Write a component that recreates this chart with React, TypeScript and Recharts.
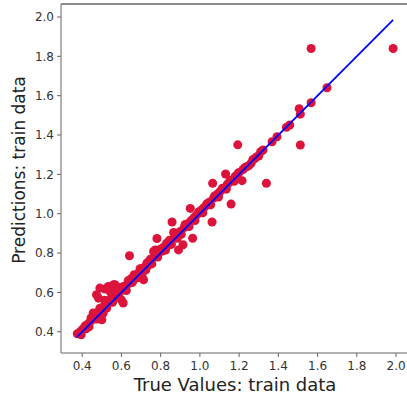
import { ScatterChart, Scatter, XAxis, YAxis, ZAxis, Label, ReferenceLine } from "recharts"

// true vs predicted values (train set)
const trueValues = [
  0.375, 0.385, 0.39, 0.4, 0.41, 0.42, 0.43, 0.44, 0.45, 0.456, 0.46, 0.47, 0.473, 0.48,
  0.483, 0.49, 0.495, 0.5, 0.507, 0.51, 0.517, 0.52, 0.53, 0.533, 0.54, 0.55, 0.56, 0.567,
  0.57, 0.58, 0.59, 0.6, 0.609, 0.61, 0.619, 0.62, 0.63, 0.641, 0.645, 0.65, 0.66, 0.67,
  0.68, 0.69, 0.7, 0.713, 0.72, 0.73, 0.74, 0.75, 0.764, 0.77, 0.772, 0.78, 0.781, 0.79,
  0.8, 0.81, 0.82, 0.83, 0.84, 0.85, 0.858, 0.866, 0.87, 0.88, 0.891, 0.9, 0.914, 0.92,
  0.93, 0.94, 0.951, 0.963, 0.97, 0.98, 0.99, 1.0, 1.01, 1.02, 1.03, 1.04, 1.05, 1.062,
  1.065, 1.07, 1.08, 1.09, 1.1, 1.11, 1.12, 1.131, 1.14, 1.15, 1.159, 1.16, 1.18, 1.193,
  1.2, 1.215, 1.22, 1.24, 1.261, 1.28, 1.3, 1.322, 1.339, 1.368, 1.393, 1.441, 1.458,
  1.506, 1.512, 1.512, 1.567, 1.567, 1.648, 1.985,
  0.395, 0.415, 0.435, 0.445, 0.465, 0.475, 0.49, 0.5, 0.515, 0.525, 0.545, 0.555, 0.575,
  0.585, 0.595, 0.625, 0.635, 0.655, 0.665, 0.685, 0.695, 0.705, 0.725, 0.745, 0.755,
  0.785, 0.795, 0.815, 0.825, 0.845, 0.855, 0.875, 0.885, 0.905, 0.925, 0.945, 0.955,
  0.975, 0.995, 1.015, 1.035, 1.055, 1.075, 1.095, 1.115, 1.135, 1.155, 1.175, 1.195,
  1.23, 1.25, 1.27, 1.29, 1.31,
]
const predictedValues = [
  0.39, 0.392, 0.4, 0.41, 0.42, 0.415, 0.44, 0.45, 0.47, 0.495, 0.465, 0.48, 0.588, 0.5,
  0.571, 0.622, 0.51, 0.461, 0.495, 0.53, 0.617, 0.54, 0.55, 0.63, 0.56, 0.57, 0.639, 0.639,
  0.58, 0.6, 0.6, 0.562, 0.546, 0.63, 0.63, 0.62, 0.64, 0.786, 0.66, 0.67, 0.66, 0.68,
  0.69, 0.7, 0.72, 0.664, 0.73, 0.75, 0.74, 0.77, 0.808, 0.78, 0.816, 0.79, 0.874, 0.8,
  0.82, 0.81, 0.83, 0.85, 0.84, 0.86, 0.958, 0.905, 0.88, 0.89, 0.816, 0.91, 0.842, 0.93,
  0.94, 0.95, 1.027, 0.875, 0.98, 0.99, 1.0, 1.01, 1.02, 1.03, 1.04, 1.05, 1.06, 0.958,
  1.155, 1.08, 1.09, 1.1, 1.11, 1.12, 1.13, 1.202, 1.15, 1.16, 1.049, 1.17, 1.19, 1.35,
  1.21, 1.168, 1.225, 1.24, 1.256, 1.28, 1.293, 1.324, 1.155, 1.366, 1.391, 1.439, 1.451,
  1.534, 1.349, 1.506, 1.564, 1.84, 1.64, 1.84,
  0.385, 0.43, 0.425, 0.47, 0.49, 0.465, 0.52, 0.49, 0.56, 0.52, 0.6, 0.55, 0.61,
  0.575, 0.625, 0.61, 0.66, 0.65, 0.69, 0.675, 0.72, 0.69, 0.715, 0.765, 0.745,
  0.78, 0.815, 0.83, 0.815, 0.865, 0.845, 0.895, 0.875, 0.895, 0.945, 0.935, 0.965,
  0.965, 1.01, 1.005, 1.05, 1.045, 1.09, 1.085, 1.13, 1.125, 1.17, 1.165, 1.205,
  1.235, 1.245, 1.275, 1.29, 1.315,
]

// y = x reference line, from min to max of the true values
const idealLine = [0.373, 1.985]

const axisTicks = [0.4, 0.6, 0.8, 1.0, 1.2, 1.4, 1.6, 1.8, 2.0]
const axisDomain = [0.292, 2.066]

const points = trueValues.map((x, i) => ({ x, y: predictedValues[i] }))
const lineData = idealLine.map((v) => ({ x: v, y: v }))

const font = "DejaVu Sans"
const spine = "#666"
const tickStyle = { fill: "#333", fontSize: 12, fontFamily: font }

export default function App() {
  return (
    <div
      style={{
        position: "absolute",
        left: 0,
        top: 0,
        width: 407,
        height: 398,
        overflow: "hidden",
        background: "#fff",
      }}
    >
      <ScatterChart width={409} height={398} margin={{ top: 4, right: 0, bottom: 0, left: 0 }}>
        <XAxis
          type="number"
          dataKey="x"
          domain={axisDomain}
          ticks={axisTicks}
          tickFormatter={(v) => v.toFixed(1)}
          allowDataOverflow
          height={45}
          stroke={spine}
          tickSize={4}
          tickMargin={4}
          tick={tickStyle}
        >
          <Label
            content={() => (
              <text x={235} y={391} textAnchor="middle" fontSize={18} fontFamily={font} fill="#222">
                True Values: train data
              </text>
            )}
          />
        </XAxis>
        <YAxis
          type="number"
          dataKey="y"
          domain={axisDomain}
          ticks={axisTicks}
          tickFormatter={(v) => v.toFixed(1)}
          allowDataOverflow
          width={61}
          stroke={spine}
          tickSize={4}
          tickMargin={3}
          tick={tickStyle}
        >
          <Label
            content={() => (
              <text
                x={25}
                y={170}
                transform="rotate(-90, 25, 170)"
                textAnchor="middle"
                fontSize={17}
                fontFamily={font}
                fill="#222"
              >
                Predictions: train data
              </text>
            )}
          />
        </YAxis>
        <ZAxis range={[64, 64]} />
        {/* top spine */}
        <ReferenceLine y={axisDomain[1]} stroke={spine} strokeWidth={1.5} />
        <Scatter data={points} fill="crimson" isAnimationActive={false} />
        <Scatter
          data={lineData}
          line={{ stroke: "#0000ff", strokeWidth: 1.8 }}
          shape={() => <g />}
          isAnimationActive={false}
        />
      </ScatterChart>
    </div>
  )
}
